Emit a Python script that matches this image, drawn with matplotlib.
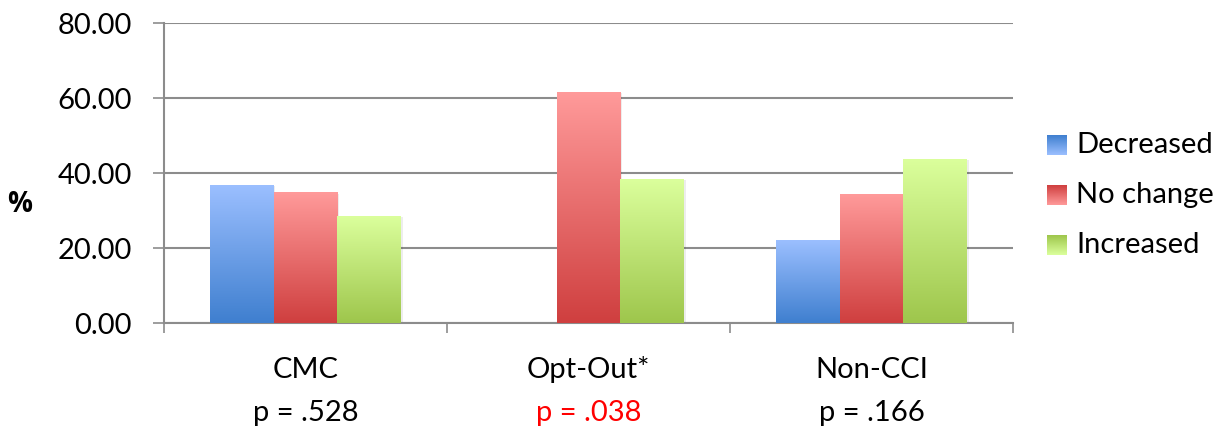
import numpy as np
import matplotlib
matplotlib.use("Agg")
import matplotlib.pyplot as plt
from matplotlib.colors import LinearSegmentedColormap
from matplotlib.patches import Rectangle

plt.rcParams['font.family'] = ['Lato', 'DejaVu Sans']

# data
groups = ["CMC", "Opt-Out*", "Non-CCI"]
p_labels = ["p = .528", "p = .038", "p = .166"]
p_colors = ["black", "#FF0000", "black"]
series = ["Decreased", "No change", "Increased"]
decreased = [36.8, 0.0, 21.9]
no_change = [34.7, 61.6, 34.4]
increased = [28.5, 38.4, 43.7]
yticks = [0, 20, 40, 60, 80]

# gradient colours (top, bottom) per series
grad = {
    "Decreased": ("#9BBFFF", "#3F7FCF"),
    "No change": ("#FF9A9A", "#CF3F3F"),
    "Increased": ("#DBFF9C", "#9EC64C"),
}
cmaps = {k: LinearSegmentedColormap.from_list(k, [v[1], v[0]]) for k, v in grad.items()}

fig = plt.figure(figsize=(12.26, 4.32), dpi=100)
ax = fig.add_axes([164/1226, 1 - 323.3/432, (1013-164)/1226, 300/432])

x = np.arange(len(groups))
w = 0.225
vals = [decreased, no_change, increased]
grid_c = "#8C8C8C"

for i, (name, v) in enumerate(zip(series, vals)):
    bars = ax.bar(x + (i - 1) * w, v, w, color="none", zorder=1)
    for b in bars:
        h = b.get_height()
        if h <= 0:
            continue
        x0 = b.get_x()
        # soft shadow
        ax.add_patch(Rectangle((x0 + 0.006, -0.3), w, h + 0.1, color="black",
                               alpha=0.07, lw=0, zorder=2))
        grad_img = np.linspace(0, 1, 256).reshape(-1, 1)
        ax.imshow(grad_img, cmap=cmaps[name], origin="lower", aspect="auto",
                  extent=[x0, x0 + w, 0, h], zorder=3, interpolation="bicubic")

ax.set_xlim(-0.5, 2.5)
ax.set_ylim(0, 80)
ax.set_yticks(yticks)
ax.set_yticklabels([f"{t:.2f}" for t in yticks], fontsize=21)
ax.yaxis.grid(True, color=grid_c, lw=1.5, zorder=0)
ax.set_axisbelow(True)
ax.set_xticks([-0.5, 0.5, 1.5, 2.5])
ax.set_xticklabels([])
ax.tick_params(axis="y", direction="out", length=8, width=1.2, color=grid_c, pad=15)
ax.tick_params(axis="x", direction="out", length=7, width=1.2, color=grid_c)
for s in ["top", "right"]:
    ax.spines[s].set_visible(False)
for s in ["left", "bottom"]:
    ax.spines[s].set_color(grid_c)
    ax.spines[s].set_linewidth(1.5)

for i, (g, p, pc) in enumerate(zip(groups, p_labels, p_colors)):
    ax.text(i, -0.155, g, transform=ax.get_xaxis_transform(), ha="center",
            va="center", fontsize=21)
    ax.text(i, -0.3, p, transform=ax.get_xaxis_transform(), ha="center",
            va="center", fontsize=21, color=pc)

fig.text(20/1226, 1 - 204/432, "%", fontsize=20, fontweight="bold",
         family=["Open Sans", "DejaVu Sans"], ha="center", va="center")

# legend with gradient swatches
lax = fig.add_axes([0, 0, 1, 1])
lax.set_xlim(0, 1226)
lax.set_ylim(432, 0)
lax.axis("off")
for j, name in enumerate(series):
    yc = 145 + j * 50
    sw = np.linspace(0, 1, 64).reshape(-1, 1)
    lax.imshow(sw, cmap=cmaps[name], origin="upper", aspect="auto",
               extent=[1047, 1067, yc + 10, yc - 10], interpolation="bicubic")
    lax.text(1076, yc, name, fontsize=21, ha="left", va="center")
lax.set_xlim(0, 1226)
lax.set_ylim(432, 0)

fig.savefig("out.png", dpi=100)
